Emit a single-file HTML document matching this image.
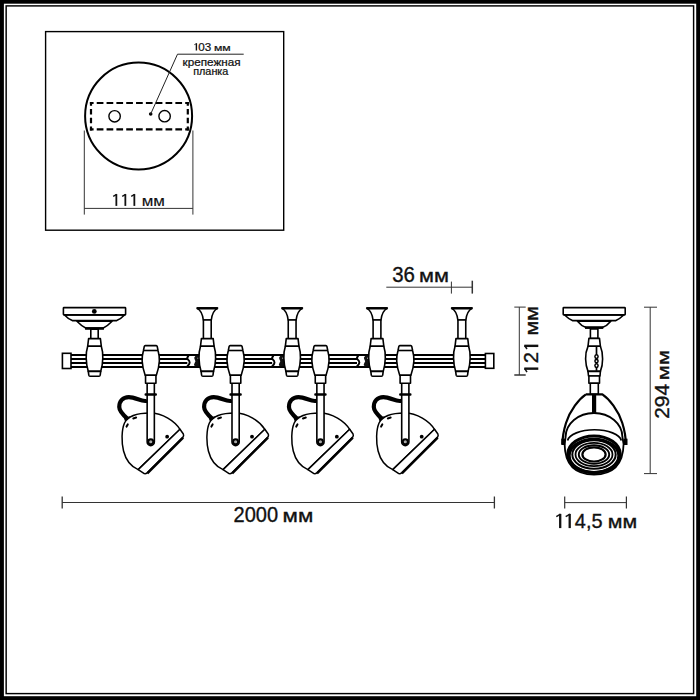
<!DOCTYPE html>
<html><head><meta charset="utf-8">
<style>
html,body{margin:0;padding:0;background:#fff;width:700px;height:700px;overflow:hidden}
svg{display:block}
text{font-family:"Liberation Sans",sans-serif;fill:#111}
</style></head>
<body>
<svg width="700" height="700" viewBox="0 0 700 700">


<!-- frame -->
<rect x="0" y="0" width="700" height="700" fill="#000"/>
<rect x="3.9" y="3.7" width="692.3" height="692.5" fill="#fff"/>
<rect x="6.15" y="5.9" width="687.45" height="687.7" fill="none" stroke="#000" stroke-width="1.45"/>

<!-- top box -->
<rect x="45.6" y="31.6" width="238.1" height="198.6" fill="none" stroke="#000" stroke-width="1.4"/>
<circle cx="138.6" cy="116" r="53.5" fill="none" stroke="#000" stroke-width="2"/>
<g fill="none" stroke="#000" stroke-width="2.2">
<path d="M89.9,103 L188.9,103 M89.9,129.3 L188.9,129.3" stroke-dasharray="6.7 3.13" stroke-dashoffset="3"/>
<path d="M91,101.9 L91,130.4 M187.8,101.9 L187.8,130.4" stroke-dasharray="5.4 3.3" stroke-dashoffset="1.5"/>
</g>
<circle cx="114.6" cy="116.3" r="5.7" fill="none" stroke="#000" stroke-width="1.4"/>
<circle cx="164.6" cy="116.2" r="5.7" fill="none" stroke="#000" stroke-width="1.4"/>
<circle cx="150.7" cy="114" r="1.8" fill="#000"/>
<path d="M150.7,114 L177.5,54.2 L243.7,54.2" fill="none" stroke="#222" stroke-width="1"/>
<path d="M84.3,130.5 L84.3,214.6 M192.9,130.5 L192.9,214.6 M84.3,208.4 L192.9,208.4" fill="none" stroke="#333" stroke-width="1"/>
<text stroke="#111" stroke-width="0.22" x="182.6" y="66.2" font-size="10.3" textLength="58" lengthAdjust="spacingAndGlyphs">крепежная</text>
<text stroke="#111" stroke-width="0.22" x="193.2" y="74.6" font-size="10.3" textLength="35.2" lengthAdjust="spacingAndGlyphs">планка</text>

<!-- rail -->
<g stroke="#000" stroke-width="1.95">
  <line x1="70" y1="355" x2="486" y2="355"/>
  <line x1="70" y1="359" x2="486" y2="359"/>
  <line x1="70" y1="363" x2="486" y2="363"/>
  <line x1="70" y1="367" x2="486" y2="367"/>
</g>
<rect x="62.4" y="353.3" width="8.6" height="15.2" fill="#fff" stroke="#000" stroke-width="1.6"/>
<rect x="485.4" y="353.5" width="8.4" height="14.8" fill="#fff" stroke="#000" stroke-width="1.6"/>
<g transform="translate(207.3,0)">
    <rect x="-20" y="356.1" width="12.8" height="9.8" fill="#fff"/>
    <path d="M-18.6,355.8 Q-20.8,357.8 -19.6,359.3 Q-17.6,360.9 -17.6,362.7 Q-17.8,364.8 -20.2,366.4" fill="none" stroke="#000" stroke-width="1.9"/>
    <path d="M-11.8,355.8 Q-14,357.8 -12.6,359.6 Q-11,361.4 -12.8,363.2 Q-14.2,365 -12.2,366.2 L-7.3,366.2 L-7.3,355.8 Z" fill="#111"/>
    <circle cx="-9.2" cy="358.2" r="0.6" fill="#fff"/>
</g>
<g transform="translate(292.15,0)">
    <rect x="-20" y="356.1" width="12.8" height="9.8" fill="#fff"/>
    <path d="M-18.6,355.8 Q-20.8,357.8 -19.6,359.3 Q-17.6,360.9 -17.6,362.7 Q-17.8,364.8 -20.2,366.4" fill="none" stroke="#000" stroke-width="1.9"/>
    <path d="M-11.8,355.8 Q-14,357.8 -12.6,359.6 Q-11,361.4 -12.8,363.2 Q-14.2,365 -12.2,366.2 L-7.3,366.2 L-7.3,355.8 Z" fill="#111"/>
    <circle cx="-9.2" cy="358.2" r="0.6" fill="#fff"/>
</g>
<g transform="translate(377,0)">
    <rect x="-20" y="356.1" width="12.8" height="9.8" fill="#fff"/>
    <path d="M-18.6,355.8 Q-20.8,357.8 -19.6,359.3 Q-17.6,360.9 -17.6,362.7 Q-17.8,364.8 -20.2,366.4" fill="none" stroke="#000" stroke-width="1.9"/>
    <path d="M-11.8,355.8 Q-14,357.8 -12.6,359.6 Q-11,361.4 -12.8,363.2 Q-14.2,365 -12.2,366.2 L-7.3,366.2 L-7.3,355.8 Z" fill="#111"/>
    <circle cx="-9.2" cy="358.2" r="0.6" fill="#fff"/>
</g>

<!-- canopy -->
<g transform="translate(94.5,0)" fill="#fff" stroke="#000" stroke-width="1.6" stroke-linejoin="round">
  <path d="M-30,315 Q-26.5,318.8 -22.2,320.6 L22.2,320.6 Q26.5,318.8 30,315 Z"/>
  <path d="M-17.6,321.2 Q-12.5,326.5 -8,328.4 L8,328.4 Q12.5,326.5 17.6,321.2 Z"/>
  <line x1="-9.5" y1="328.4" x2="9.5" y2="328.4" stroke-width="2.6"/>
  <rect x="-31.1" y="307.6" width="62.2" height="7.3" rx="0.6"/>
  <circle cx="-0.2" cy="311.4" r="2.4" fill="#000" stroke="none"/>
  <rect x="-3.7" y="329.2" width="7.4" height="9.5"/>
</g>
<g transform="translate(94.5,0)" fill="#fff" stroke="#000" stroke-width="1.6" stroke-linejoin="round">
    <path d="M-5.9,338.6 L5.9,338.6 L6.8,346.2 L-6.8,346.2 Z"/>
    <path d="M-6.8,346.2 Q-8.5,351.5 -8.3,358 Q-8.1,366 -6.2,371.4 L6.2,371.4 Q8.1,366 8.3,358 Q8.5,351.5 6.8,346.2 Z"/>
    <path d="M-6.2,371.4 L6.2,371.4 L5.7,375.2 Q5.5,376.2 4.5,376.2 L-4.5,376.2 Q-5.5,376.2 -5.7,375.2 Z"/>
</g>
<g transform="translate(207.3,0)" fill="#fff" stroke="#000" stroke-width="1.6" stroke-linejoin="round">
    <path d="M-10.3,308.1 L10.3,308.1 Q5,311 4,320 L-4,320 Q-5,311 -10.3,308.1 Z"/>
    <line x1="-10.5" y1="308.3" x2="10.5" y2="308.3" stroke-width="2.4"/>
    <rect x="-3.9" y="320" width="7.8" height="18.7"/>
</g><g transform="translate(207.3,0)" fill="#fff" stroke="#000" stroke-width="1.6" stroke-linejoin="round">
    <path d="M-5.9,338.6 L5.9,338.6 L6.8,346.2 L-6.8,346.2 Z"/>
    <path d="M-6.8,346.2 Q-8.5,351.5 -8.3,358 Q-8.1,366 -6.2,371.4 L6.2,371.4 Q8.1,366 8.3,358 Q8.5,351.5 6.8,346.2 Z"/>
    <path d="M-6.2,371.4 L6.2,371.4 L5.7,375.2 Q5.5,376.2 4.5,376.2 L-4.5,376.2 Q-5.5,376.2 -5.7,375.2 Z"/>
</g>
<g transform="translate(292.15,0)" fill="#fff" stroke="#000" stroke-width="1.6" stroke-linejoin="round">
    <path d="M-10.3,308.1 L10.3,308.1 Q5,311 4,320 L-4,320 Q-5,311 -10.3,308.1 Z"/>
    <line x1="-10.5" y1="308.3" x2="10.5" y2="308.3" stroke-width="2.4"/>
    <rect x="-3.9" y="320" width="7.8" height="18.7"/>
</g><g transform="translate(292.15,0)" fill="#fff" stroke="#000" stroke-width="1.6" stroke-linejoin="round">
    <path d="M-5.9,338.6 L5.9,338.6 L6.8,346.2 L-6.8,346.2 Z"/>
    <path d="M-6.8,346.2 Q-8.5,351.5 -8.3,358 Q-8.1,366 -6.2,371.4 L6.2,371.4 Q8.1,366 8.3,358 Q8.5,351.5 6.8,346.2 Z"/>
    <path d="M-6.2,371.4 L6.2,371.4 L5.7,375.2 Q5.5,376.2 4.5,376.2 L-4.5,376.2 Q-5.5,376.2 -5.7,375.2 Z"/>
</g>
<g transform="translate(377,0)" fill="#fff" stroke="#000" stroke-width="1.6" stroke-linejoin="round">
    <path d="M-10.3,308.1 L10.3,308.1 Q5,311 4,320 L-4,320 Q-5,311 -10.3,308.1 Z"/>
    <line x1="-10.5" y1="308.3" x2="10.5" y2="308.3" stroke-width="2.4"/>
    <rect x="-3.9" y="320" width="7.8" height="18.7"/>
</g><g transform="translate(377,0)" fill="#fff" stroke="#000" stroke-width="1.6" stroke-linejoin="round">
    <path d="M-5.9,338.6 L5.9,338.6 L6.8,346.2 L-6.8,346.2 Z"/>
    <path d="M-6.8,346.2 Q-8.5,351.5 -8.3,358 Q-8.1,366 -6.2,371.4 L6.2,371.4 Q8.1,366 8.3,358 Q8.5,351.5 6.8,346.2 Z"/>
    <path d="M-6.2,371.4 L6.2,371.4 L5.7,375.2 Q5.5,376.2 4.5,376.2 L-4.5,376.2 Q-5.5,376.2 -5.7,375.2 Z"/>
</g>
<g transform="translate(461.85,0)" fill="#fff" stroke="#000" stroke-width="1.6" stroke-linejoin="round">
    <path d="M-10.3,308.1 L10.3,308.1 Q5,311 4,320 L-4,320 Q-5,311 -10.3,308.1 Z"/>
    <line x1="-10.5" y1="308.3" x2="10.5" y2="308.3" stroke-width="2.4"/>
    <rect x="-3.9" y="320" width="7.8" height="18.7"/>
</g><g transform="translate(461.85,0)" fill="#fff" stroke="#000" stroke-width="1.6" stroke-linejoin="round">
    <path d="M-5.9,338.6 L5.9,338.6 L6.8,346.2 L-6.8,346.2 Z"/>
    <path d="M-6.8,346.2 Q-8.5,351.5 -8.3,358 Q-8.1,366 -6.2,371.4 L6.2,371.4 Q8.1,366 8.3,358 Q8.5,351.5 6.8,346.2 Z"/>
    <path d="M-6.2,371.4 L6.2,371.4 L5.7,375.2 Q5.5,376.2 4.5,376.2 L-4.5,376.2 Q-5.5,376.2 -5.7,375.2 Z"/>
</g>

<g transform="translate(150.75,0)" stroke="#000" stroke-width="1.6" stroke-linejoin="round" fill="#fff">
    <path d="M-3.6,400.6 C-8,402.6 -15,397.2 -21.9,397.2 C-28,397.2 -31.5,401.5 -31.5,407 C-31.5,411.5 -27,415.5 -23.2,418.8" fill="none" stroke-width="4.2"/>
    <path d="M-26.8,418.2 L-20.5,416 L-25.2,423 Z" fill="#000" stroke="none"/>
    <path d="M29.25,429.3 C24,421 12,413 -0.75,413 C-13.75,413 -22.75,416 -26.25,423 C-29.25,430 -29.4,442 -27.2,451 C-24.8,460.5 -19.2,466.8 -12.55,469.6 Z" stroke-width="1.5"/>
    <path d="M29.25,429.3 L32.6,434 Q33.3,435.5 32.25,437.1 L-3.65,472.9 Q-5,474 -6.5,473.6 L-12.55,469.6 Z" stroke-width="1.5"/>
    <line x1="32.4" y1="437.6" x2="-3.4" y2="473.4" stroke-width="2.4"/>
    <path d="M-3.6,383.3 L-3.6,442 A3.6,3.6 0 0 0 3.6,442 L3.6,383.3 Z"/>
    <rect x="-6.2" y="393.2" width="12.4" height="2.5" rx="1" fill="#000" stroke="none"/>
    <circle cx="0" cy="441.8" r="2.5" stroke-width="1.9" fill="#aaa"/>
    <line x1="-17.5" y1="418.5" x2="-14.6" y2="417.5" stroke-width="1.9" stroke-linecap="round"/>
    <line x1="-24.2" y1="426.6" x2="-23" y2="424.4" stroke-width="2" stroke-linecap="round"/>
    <circle cx="16.4" cy="436.7" r="1.9" fill="#000" stroke="none"/>
    <path d="M-5.5,345.6 L5.5,345.6 Q6.2,345.6 6.5,346.6 L7.3,350.5 Q8.8,356 8.6,361 Q8.2,368 5.6,375.2 L-5.6,375.2 Q-8.2,368 -8.6,361 Q-8.8,356 -7.3,350.5 L-6.5,346.6 Q-6.2,345.6 -5.5,345.6 Z"/>
    <line x1="-7.2" y1="350.5" x2="7.2" y2="350.5"/>
    <rect x="-5.2" y="375.2" width="10.4" height="8.1"/>
</g>
<g transform="translate(235.6,0)" stroke="#000" stroke-width="1.6" stroke-linejoin="round" fill="#fff">
    <path d="M-3.6,400.6 C-8,402.6 -15,397.2 -21.9,397.2 C-28,397.2 -31.5,401.5 -31.5,407 C-31.5,411.5 -27,415.5 -23.2,418.8" fill="none" stroke-width="4.2"/>
    <path d="M-26.8,418.2 L-20.5,416 L-25.2,423 Z" fill="#000" stroke="none"/>
    <path d="M29.25,429.3 C24,421 12,413 -0.75,413 C-13.75,413 -22.75,416 -26.25,423 C-29.25,430 -29.4,442 -27.2,451 C-24.8,460.5 -19.2,466.8 -12.55,469.6 Z" stroke-width="1.5"/>
    <path d="M29.25,429.3 L32.6,434 Q33.3,435.5 32.25,437.1 L-3.65,472.9 Q-5,474 -6.5,473.6 L-12.55,469.6 Z" stroke-width="1.5"/>
    <line x1="32.4" y1="437.6" x2="-3.4" y2="473.4" stroke-width="2.4"/>
    <path d="M-3.6,383.3 L-3.6,442 A3.6,3.6 0 0 0 3.6,442 L3.6,383.3 Z"/>
    <rect x="-6.2" y="393.2" width="12.4" height="2.5" rx="1" fill="#000" stroke="none"/>
    <circle cx="0" cy="441.8" r="2.5" stroke-width="1.9" fill="#aaa"/>
    <line x1="-17.5" y1="418.5" x2="-14.6" y2="417.5" stroke-width="1.9" stroke-linecap="round"/>
    <line x1="-24.2" y1="426.6" x2="-23" y2="424.4" stroke-width="2" stroke-linecap="round"/>
    <circle cx="16.4" cy="436.7" r="1.9" fill="#000" stroke="none"/>
    <path d="M-5.5,345.6 L5.5,345.6 Q6.2,345.6 6.5,346.6 L7.3,350.5 Q8.8,356 8.6,361 Q8.2,368 5.6,375.2 L-5.6,375.2 Q-8.2,368 -8.6,361 Q-8.8,356 -7.3,350.5 L-6.5,346.6 Q-6.2,345.6 -5.5,345.6 Z"/>
    <line x1="-7.2" y1="350.5" x2="7.2" y2="350.5"/>
    <rect x="-5.2" y="375.2" width="10.4" height="8.1"/>
</g>
<g transform="translate(320.45,0)" stroke="#000" stroke-width="1.6" stroke-linejoin="round" fill="#fff">
    <path d="M-3.6,400.6 C-8,402.6 -15,397.2 -21.9,397.2 C-28,397.2 -31.5,401.5 -31.5,407 C-31.5,411.5 -27,415.5 -23.2,418.8" fill="none" stroke-width="4.2"/>
    <path d="M-26.8,418.2 L-20.5,416 L-25.2,423 Z" fill="#000" stroke="none"/>
    <path d="M29.25,429.3 C24,421 12,413 -0.75,413 C-13.75,413 -22.75,416 -26.25,423 C-29.25,430 -29.4,442 -27.2,451 C-24.8,460.5 -19.2,466.8 -12.55,469.6 Z" stroke-width="1.5"/>
    <path d="M29.25,429.3 L32.6,434 Q33.3,435.5 32.25,437.1 L-3.65,472.9 Q-5,474 -6.5,473.6 L-12.55,469.6 Z" stroke-width="1.5"/>
    <line x1="32.4" y1="437.6" x2="-3.4" y2="473.4" stroke-width="2.4"/>
    <path d="M-3.6,383.3 L-3.6,442 A3.6,3.6 0 0 0 3.6,442 L3.6,383.3 Z"/>
    <rect x="-6.2" y="393.2" width="12.4" height="2.5" rx="1" fill="#000" stroke="none"/>
    <circle cx="0" cy="441.8" r="2.5" stroke-width="1.9" fill="#aaa"/>
    <line x1="-17.5" y1="418.5" x2="-14.6" y2="417.5" stroke-width="1.9" stroke-linecap="round"/>
    <line x1="-24.2" y1="426.6" x2="-23" y2="424.4" stroke-width="2" stroke-linecap="round"/>
    <circle cx="16.4" cy="436.7" r="1.9" fill="#000" stroke="none"/>
    <path d="M-5.5,345.6 L5.5,345.6 Q6.2,345.6 6.5,346.6 L7.3,350.5 Q8.8,356 8.6,361 Q8.2,368 5.6,375.2 L-5.6,375.2 Q-8.2,368 -8.6,361 Q-8.8,356 -7.3,350.5 L-6.5,346.6 Q-6.2,345.6 -5.5,345.6 Z"/>
    <line x1="-7.2" y1="350.5" x2="7.2" y2="350.5"/>
    <rect x="-5.2" y="375.2" width="10.4" height="8.1"/>
</g>
<g transform="translate(405.3,0)" stroke="#000" stroke-width="1.6" stroke-linejoin="round" fill="#fff">
    <path d="M-3.6,400.6 C-8,402.6 -15,397.2 -21.9,397.2 C-28,397.2 -31.5,401.5 -31.5,407 C-31.5,411.5 -27,415.5 -23.2,418.8" fill="none" stroke-width="4.2"/>
    <path d="M-26.8,418.2 L-20.5,416 L-25.2,423 Z" fill="#000" stroke="none"/>
    <path d="M29.25,429.3 C24,421 12,413 -0.75,413 C-13.75,413 -22.75,416 -26.25,423 C-29.25,430 -29.4,442 -27.2,451 C-24.8,460.5 -19.2,466.8 -12.55,469.6 Z" stroke-width="1.5"/>
    <path d="M29.25,429.3 L32.6,434 Q33.3,435.5 32.25,437.1 L-3.65,472.9 Q-5,474 -6.5,473.6 L-12.55,469.6 Z" stroke-width="1.5"/>
    <line x1="32.4" y1="437.6" x2="-3.4" y2="473.4" stroke-width="2.4"/>
    <path d="M-3.6,383.3 L-3.6,442 A3.6,3.6 0 0 0 3.6,442 L3.6,383.3 Z"/>
    <rect x="-6.2" y="393.2" width="12.4" height="2.5" rx="1" fill="#000" stroke="none"/>
    <circle cx="0" cy="441.8" r="2.5" stroke-width="1.9" fill="#aaa"/>
    <line x1="-17.5" y1="418.5" x2="-14.6" y2="417.5" stroke-width="1.9" stroke-linecap="round"/>
    <line x1="-24.2" y1="426.6" x2="-23" y2="424.4" stroke-width="2" stroke-linecap="round"/>
    <circle cx="16.4" cy="436.7" r="1.9" fill="#000" stroke="none"/>
    <path d="M-5.5,345.6 L5.5,345.6 Q6.2,345.6 6.5,346.6 L7.3,350.5 Q8.8,356 8.6,361 Q8.2,368 5.6,375.2 L-5.6,375.2 Q-8.2,368 -8.6,361 Q-8.8,356 -7.3,350.5 L-6.5,346.6 Q-6.2,345.6 -5.5,345.6 Z"/>
    <line x1="-7.2" y1="350.5" x2="7.2" y2="350.5"/>
    <rect x="-5.2" y="375.2" width="10.4" height="8.1"/>
</g>

<!-- side view -->
<g fill="#fff" stroke="#000" stroke-width="1.6" stroke-linejoin="round">
  <path d="M564.6,315 Q568.5,318.8 572.4,320.6 L615.9,320.6 Q619.8,318.8 623.7,315 Z"/>
  <path d="M577.5,321.2 Q581.5,326 586,327.6 L602.3,327.6 Q606.8,326 610.8,321.2 Z"/>
  <line x1="585" y1="327.6" x2="603.3" y2="327.6" stroke-width="2.6"/>
  <rect x="563.2" y="307.6" width="62" height="7.3" rx="0.6"/>
  <rect x="590.4" y="329" width="7.5" height="9.6"/>
  <path d="M588.9,338.4 L599.5,338.4 L600.4,346.3 L588,346.3 Z"/>
  <path d="M588,346.3 Q585.4,352 585.6,359 Q585.8,366 588,371.4 L600.4,371.4 Q602.6,366 602.6,359 Q602.8,352 600.4,346.3 Z"/>
  <path d="M588,371.4 L600.4,371.4 L600,376 L588.5,376 Z"/>
  <rect x="588.9" y="376" width="10.6" height="7.2"/>
  <rect x="590.3" y="383.2" width="8" height="11.1"/>
  <line x1="596.5" y1="347" x2="596.5" y2="370.8" stroke-width="1.7"/>
  <ellipse cx="596.5" cy="356.6" rx="1.6" ry="1.8" stroke-width="1.5"/>
  <ellipse cx="596.5" cy="361.1" rx="1.6" ry="1.6" stroke-width="1.5"/>
  <ellipse cx="596.5" cy="365.6" rx="1.6" ry="1.8" stroke-width="1.5"/>
  <!-- yoke -->
  <path d="M585.9,394.3 L602.4,394.3 C609.3,399 618.3,410 622.3,423 C624.8,431 625.8,438 625.8,444 M585.9,394.3 C579,399 570,410 566,423 C563.5,431 562.5,438 562.5,444" fill="none" stroke-width="2.2"/>
  <!-- head -->
  <path d="M564.6,444 L565.6,437 A28.4,24 0 0 1 622.4,437 L623.6,444 Q623,474.5 594,474.5 Q565,474.5 564.6,444 Z" stroke-width="1.8"/>
  <path d="M567.6,440.5 A27,12 0 0 1 621.3,440.5" fill="none" stroke-width="1.7"/>
  <rect x="592" y="394" width="4.2" height="19" fill="#000" stroke="none"/>
  <rect x="561.3" y="438.7" width="4" height="6.3" fill="#000" stroke="none"/>
  <rect x="623.5" y="438.7" width="4" height="6.3" fill="#000" stroke="none"/>
  <ellipse cx="594" cy="454.3" rx="26.3" ry="18.4" fill="none" stroke-width="3"/>
  <ellipse cx="594" cy="455.8" rx="24.8" ry="16.6" fill="none" stroke-width="3"/>
  <ellipse cx="594" cy="454.5" rx="21.7" ry="14.2" fill="none" stroke-width="2"/>
  <ellipse cx="594" cy="454.5" rx="18.5" ry="11.6" fill="none" stroke-width="1.8"/>
  <ellipse cx="594" cy="454.5" rx="15.2" ry="9.2" fill="none" stroke-width="1.9"/>
  <ellipse cx="594" cy="454.4" rx="11.6" ry="7.1" fill="none" stroke-width="2.2"/>
</g>

<!-- dimensions -->
<g stroke="#333" stroke-width="1" fill="none">
  <path d="M386.3,287.2 L472.5,287.2 M451.4,281.6 L451.4,293.6"/>
  <path d="M472.3,280.7 L472.3,293.6" stroke-width="1.5"/>
  <path d="M519.3,307.1 L519.3,375 M514.3,307.1 L525.7,307.1"/>
  <path d="M514.3,375 L525.7,375" stroke-width="1.5"/>
  <path d="M650.2,307.2 L650.2,473.6 M644,307.2 L657,307.2 M644,473.6 L657,473.6"/>
  <path d="M62.2,502.5 L494.4,502.5"/><path d="M62.2,496.4 L62.2,508.6 M494.4,496.4 L494.4,508.6" stroke-width="1.3"/>
  <path d="M564.7,502.6 L626.4,502.6"/><path d="M564.7,496.5 L564.7,508.5 M626.4,496.5 L626.4,508.5" stroke-width="1.2"/>
</g>
<g stroke="#111" stroke-width="0.35">
<text x="392.22" y="281.7" font-size="21.4" textLength="22.67" lengthAdjust="spacingAndGlyphs">36</text>
<text x="418.99" y="281.7" font-size="18.6" textLength="29.91" lengthAdjust="spacingAndGlyphs">мм</text>
<text x="233.49" y="521.7" font-size="21.5" textLength="44.59" lengthAdjust="spacingAndGlyphs">2000</text>
<text x="282.55" y="521.7" font-size="18.2" textLength="30.68" lengthAdjust="spacingAndGlyphs">мм</text>
<path d="M560.20,528.1 L560.20,513.9" stroke-width="2.3" fill="none"/><path d="M560.50,514.20 L556.30,516.64" stroke-width="1.52" fill="none"/>
<path d="M569.70,528.1 L569.70,513.9" stroke-width="2.3" fill="none"/><path d="M570.00,514.20 L565.70,516.64" stroke-width="1.52" fill="none"/>
<text x="574.84" y="528.1" font-size="21.0" textLength="27.69" lengthAdjust="spacingAndGlyphs">4,5</text>
<text x="607.72" y="528.1" font-size="18.0" textLength="29.35" lengthAdjust="spacingAndGlyphs">мм</text>
<path d="M116.35,205.9 L116.35,194.1" stroke-width="1.8" fill="none"/><path d="M116.65,194.40 L113.20,196.38" stroke-width="1.26" fill="none"/>
<path d="M125.35,205.9 L125.35,194.1" stroke-width="1.8" fill="none"/><path d="M125.65,194.40 L122.20,196.38" stroke-width="1.26" fill="none"/>
<path d="M134.35,205.9 L134.35,194.1" stroke-width="1.8" fill="none"/><path d="M134.65,194.40 L131.20,196.38" stroke-width="1.26" fill="none"/>
<text stroke-width="0.12" x="141.73" y="205.9" font-size="14.3" textLength="23.24" lengthAdjust="spacingAndGlyphs">мм</text>
<path d="M196.40,50.5 L196.40,43.3" stroke-width="1.4" fill="none"/><path d="M196.70,43.60 L194.30,44.69" stroke-width="0.77" fill="none"/>
<text stroke-width="0.22" x="198.34" y="50.5" font-size="10.6" textLength="12.97" lengthAdjust="spacingAndGlyphs">03</text>
<text stroke-width="0.22" x="213.95" y="50.5" font-size="9.8" textLength="16.79" lengthAdjust="spacingAndGlyphs">мм</text>
<g transform="translate(538.3,380.0) rotate(-90)"><path d="M11.35,0 L11.35,-14.0" stroke-width="2.4" fill="none"/><path d="M11.65,-13.70 L7.90,-11.30" stroke-width="1.50" fill="none"/><text x="16.67" y="0" font-size="21.0" textLength="11.35" lengthAdjust="spacingAndGlyphs">2</text><path d="M34.15,0 L34.15,-14.0" stroke-width="2.4" fill="none"/><path d="M34.45,-13.70 L31.00,-11.30" stroke-width="1.50" fill="none"/><text x="44.42" y="0" font-size="17.6" textLength="29.35" lengthAdjust="spacingAndGlyphs">мм</text></g>
<g transform="translate(668.9,420.0) rotate(-90)"><text x="1.25" y="0" font-size="20.6" textLength="34.86" lengthAdjust="spacingAndGlyphs">294</text><text x="39.88" y="0" font-size="17.4" textLength="30.24" lengthAdjust="spacingAndGlyphs">мм</text></g>
</g>
</svg>
</body></html>
